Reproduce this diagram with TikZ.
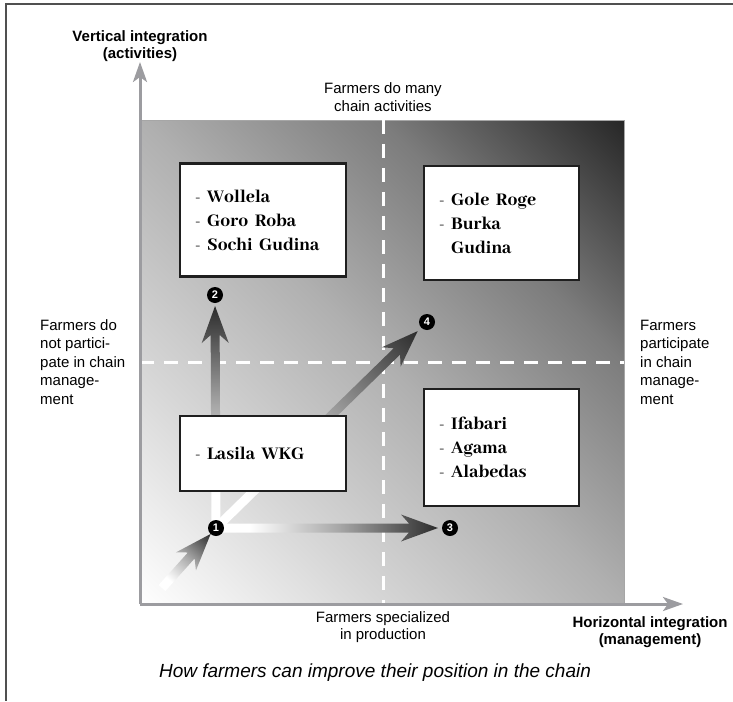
\documentclass[tikz,border=0pt]{standalone}
\usepackage{fontspec}
\setmainfont{Liberation Sans}
\newfontfamily\boxfont{Abhaya Libre ExtraBold}
\usetikzlibrary{arrows.meta,calc}

\definecolor{axisgray}{HTML}{9C9CA0}
\definecolor{framegray}{HTML}{505050}
\definecolor{fieldlight}{HTML}{D6D6D6}
\definecolor{fieldmid}{HTML}{B0B0B0}
\definecolor{fieldshade}{HTML}{7C7C7C}
\definecolor{fielddark}{HTML}{262626}
\definecolor{arrowmid}{HTML}{A8A8A8}
\definecolor{arrowdark}{HTML}{2C2C2C}

% light-to-dark ramps (the 25bp..75bp part spans the shaded path)
\pgfdeclarehorizontalshading{fieldfade}{100bp}{color(0bp)=(white); color(25bp)=(white);
  color(37.5bp)=(fieldlight); color(50bp)=(fieldmid); color(62.5bp)=(fieldshade);
  color(75bp)=(fielddark); color(100bp)=(fielddark)}
\pgfdeclarehorizontalshading{arrowfade}{100bp}{color(0bp)=(white); color(32.5bp)=(white);
  color(52.5bp)=(arrowmid); color(75bp)=(arrowdark); color(100bp)=(arrowdark)}

\pgfdeclarelayer{field}
\pgfdeclarelayer{flow}
\pgfsetlayers{field,flow,main}

\tikzset{
  axisline/.style={draw=axisgray, line width=3pt,
    -{Stealth[length=20pt,width=14pt,inset=5pt]}},
  divider/.style={draw=white, line width=3pt, dash pattern=on 14pt off 10pt},
  listbox/.style={draw=black!88, line width=2.5pt, fill=white, inner xsep=15pt,
    align=left, anchor=center,
    font=\boxfont\fontsize{19.5}{24}\selectfont},
  stepnum/.style={circle, fill=black, inner sep=0pt, minimum size=16pt,
    text=white, font=\bfseries\fontsize{11}{11}\selectfont},
  sidelabel/.style={font=\fontsize{15}{18.5}\selectfont, align=left, inner sep=0pt},
  quadlabel/.style={font=\fontsize{15}{17.3}\selectfont, align=center, inner sep=0pt},
  axislabel/.style={font=\bfseries\fontsize{15}{17.5}\selectfont, align=center, inner sep=0pt},
}

% shaded block arrow from #1 (tail) to #2 (tip), drawn along the local x axis
\newcommand\gradarrow[2]{%
  \path let \p1=($(#2)-(#1)$) in \pgfextra{%
    \pgfmathsetmacro\gaangle{atan2(\y1,\x1)}\global\let\gaangle\gaangle
    \pgfmathsetmacro\galen{veclen(\x1,\y1)}\global\let\galen\galen};
  \begin{scope}[transform canvas={shift={(#1)}, rotate=\gaangle}]
    \shade[shading=arrowfade]
      (0pt,4.5pt) -- ({\galen pt-29pt},4.5pt) -- ({\galen pt-37pt},13.5pt)
      -- (\galen pt,0pt) -- ({\galen pt-37pt},-13.5pt) -- ({\galen pt-29pt},-4.5pt)
      -- (0pt,-4.5pt) -- cycle;
  \end{scope}}

\begin{document}
\begin{tikzpicture}[x=1pt, y=-1pt]
\useasboundingbox (0,0) rectangle (733,701);

% outer frame (top and left)
\draw[framegray, line width=1.5pt] (733,4) -- (6,4) -- (6,701);

% groups in each quadrant
\node[listbox, minimum width=166pt, minimum height=113pt, text width=136pt] (b1) at (263,220)
  {- Wollela\\- Goro Roba\\- Sochi Gudina};
\node[listbox, minimum width=155pt, minimum height=114pt, text width=125pt] (b2) at (501.5,223)
  {- Gole Roge\\- Burka\\\hphantom{- }Gudina};
\node[listbox, minimum width=166pt, minimum height=75pt, text width=136pt] (b3) at (263,453.5)
  {- Lasila WKG};
\node[listbox, minimum width=155pt, minimum height=117pt, text width=125pt] (b4) at (501.5,447.5)
  {- Ifabari\\- Agama\\- Alabedas};

% step markers
\node[stepnum] (n1) at (216,528) {1};
\node[stepnum] (n2) at (215,295) {2};
\node[stepnum] (n3) at (450,528) {3};
\node[stepnum] (n4) at (427,322) {4};

% arrows between steps
\begin{pgfonlayer}{flow}
  \coordinate (entry) at (162,588);
  \coordinate (t1) at ($(n1)!8pt!(entry)$);
  \coordinate (t2) at ($(n2)!11pt!(n1)$);
  \coordinate (t3) at ($(n3)!12pt!(n1)$);
  \coordinate (t4) at ($(n4)!13pt!(n1)$);
  \gradarrow{n1}{t2}
  \gradarrow{n1}{t3}
  \gradarrow{n1}{t4}
  \gradarrow{entry}{t1}
\end{pgfonlayer}

% shaded field, dividers and axes
\begin{pgfonlayer}{field}
  \begin{scope}
    \clip (140,120) rectangle (624,604);
    \begin{scope}[transform canvas={shift={(382,362)}, rotate=45}]
      \shade[shading=fieldfade] (-343pt,-343pt) rectangle (343pt,343pt);
    \end{scope}
  \end{scope}
  \draw[gray!70, line width=0.8pt] (140,120) -- (624,120) -- (624,604);
  \coordinate (dvt) at (383,120);
  \coordinate (dvb) at (383,604);
  \coordinate (dhl) at (140,362);
  \coordinate (dhr) at (624,362);
  \draw[divider] (dvt) -- (dvb);
  \draw[divider] (dhl) -- (dhr);
  \coordinate (origin) at (140,604);
  \coordinate (ytip) at (140,62);
  \coordinate (xtip) at (683,604);
  \draw[axisline] (origin) -- (ytip);
  \draw[axisline] (origin) -- (xtip);
\end{pgfonlayer}

% labels
\node[axislabel] (ylab) at (140,46) {Vertical integration\\(activities)};
\node[axislabel] (xlab) at (650,632) {Horizontal integration\\(management)};
\node[quadlabel] (toplab) at (383,97) {Farmers do many\\chain activities};
\node[quadlabel] (botlab) at (383,627) {Farmers specialized\\in production};
\node[sidelabel, anchor=west] (leftlab) at (40,362)
  {Farmers do\\not partici-\\pate in chain\\manage-\\ment};
\node[sidelabel, anchor=west] (rightlab) at (640,362)
  {Farmers\\participate\\in chain\\manage-\\ment};
\node[font=\itshape\fontsize{19}{22}\selectfont, inner sep=0pt] (caption) at (375,673)
  {How farmers can improve their position in the chain};
\end{tikzpicture}
\end{document}
